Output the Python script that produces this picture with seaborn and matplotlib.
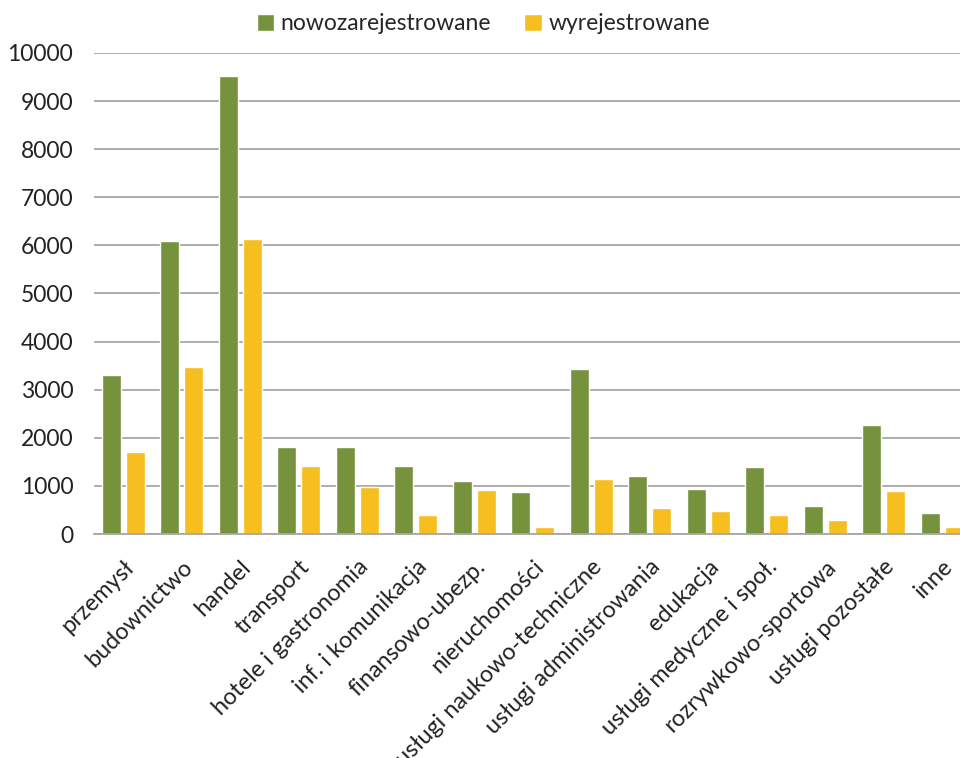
import matplotlib
matplotlib.use("Agg")
import matplotlib.pyplot as plt
import seaborn as sns
import pandas as pd

categories = [
    "przemysł", "budownictwo", "handel", "transport", "hotele i gastronomia",
    "inf. i komunikacja", "finansowo-ubezp.", "nieruchomości",
    "usługi naukowo-techniczne", "usługi administrowania", "edukacja",
    "usługi medyczne i społ.", "rozrywkowo-sportowa", "usługi pozostałe", "inne",
]
nowozarejestrowane = [3310, 6090, 9520, 1800, 1800, 1420, 1100, 880,
                      3430, 1200, 940, 1400, 580, 2260, 440]
wyrejestrowane = [1700, 3480, 6130, 1410, 970, 400, 910, 150,
                  1150, 550, 480, 390, 290, 890, 150]
series_names = ["nowozarejestrowane", "wyrejestrowane"]
y_ticks = list(range(0, 10001, 1000))

df = pd.DataFrame({
    "kategoria": categories * 2,
    "seria": [series_names[0]] * len(categories) + [series_names[1]] * len(categories),
    "liczba": nowozarejestrowane + wyrejestrowane,
})

sns.set_theme(style="white")
plt.rcParams["font.family"] = ["Lato", "DejaVu Sans"]

fig = plt.figure(figsize=(9.6, 7.58), dpi=100)
ax = fig.add_axes([0.098, 0.2955, 0.914, 0.6346])

palette = {series_names[0]: "#76923C", series_names[1]: "#F6BE1E"}
sns.barplot(data=df, x="kategoria", y="liczba", hue="seria", palette=palette,
            width=0.82, gap=0.2, saturation=1, ax=ax, legend=True)

ax.set_ylim(0, 10000)
ax.set_yticks(y_ticks)
ax.set_yticklabels([str(v) for v in y_ticks], fontsize=16.5, color="#222222")
ax.yaxis.grid(True, color="#A6A6A6", linewidth=1.3)
ax.set_axisbelow(True)
ax.set_xlabel("")
ax.set_ylabel("")
for side in ["left", "right", "top"]:
    ax.spines[side].set_visible(False)
ax.spines["bottom"].set_color("#A6A6A6")
ax.spines["bottom"].set_linewidth(1.3)
ax.tick_params(axis="both", length=0)
ax.tick_params(axis="y", pad=15)
ax.tick_params(axis="x", pad=16)

ax.set_xticks(range(len(categories)))
ax.set_xticklabels(categories, rotation=45, ha="right", rotation_mode="anchor",
                   fontsize=16.8, color="#222222")

handles, labels = ax.get_legend_handles_labels()
fig.legend(handles, labels, loc="center left", bbox_to_anchor=(236 / 960, 1 - 24 / 758),
           ncol=2, frameon=False, fontsize=16.5, handlelength=0.75, handleheight=0.75,
           handletextpad=0.3, columnspacing=1.45)
ax.get_legend().remove()

fig.savefig("out.png", dpi=100, facecolor="white")
